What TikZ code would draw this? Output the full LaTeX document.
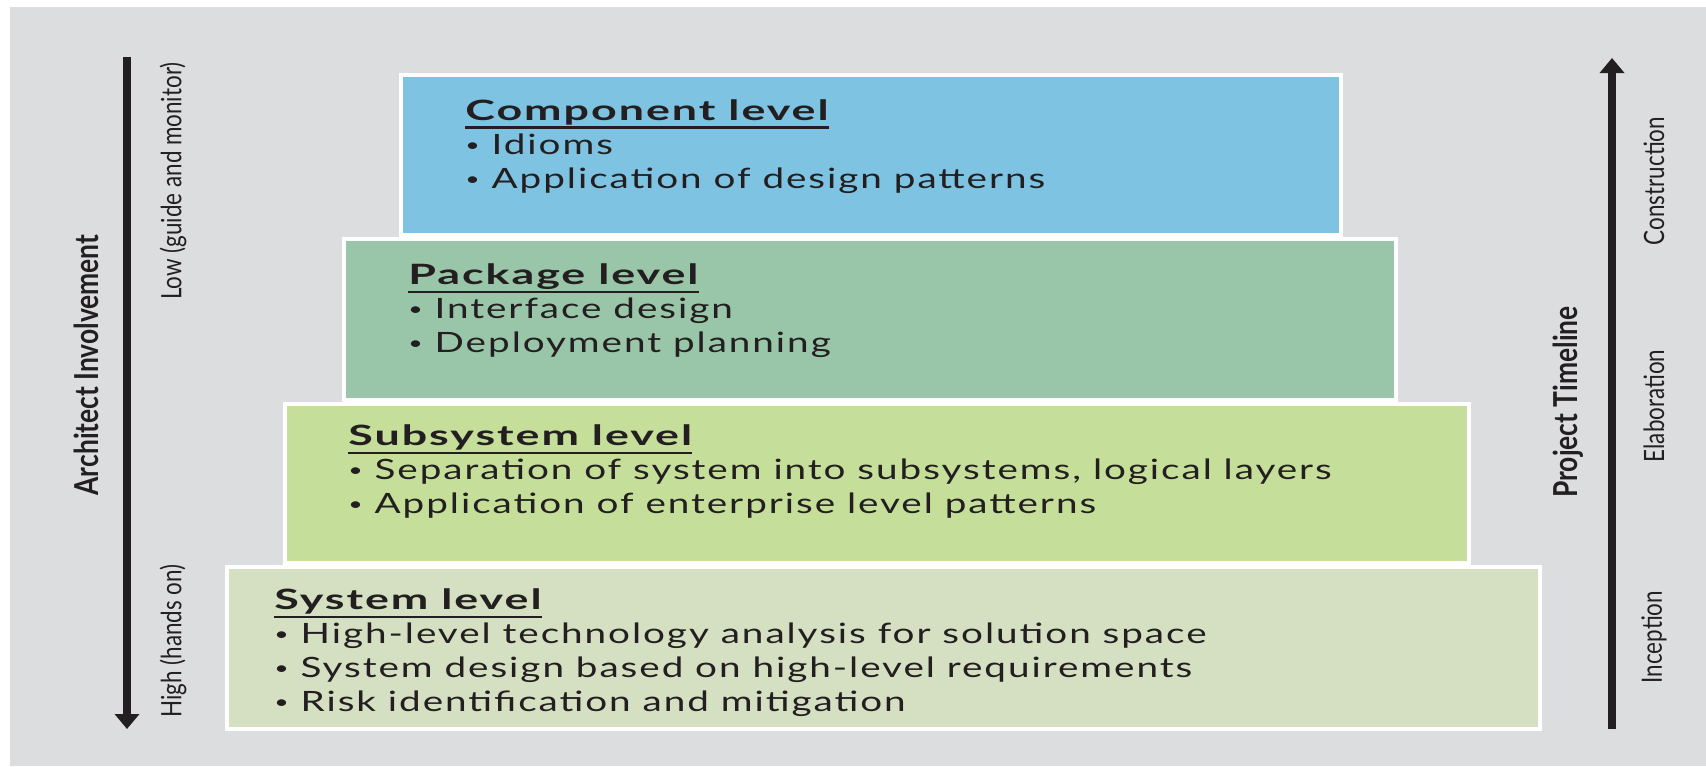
\documentclass[tikz,border=0pt]{standalone}
\usepackage{fontspec}
\usepackage{xcolor}
\usetikzlibrary{arrows.meta, positioning}

\definecolor{pagegray}{HTML}{DCDDDF}
\definecolor{compblue}{HTML}{7FC3E2}
\definecolor{packgreen}{HTML}{99C6A8}
\definecolor{subgreen}{HTML}{C5DF9B}
\definecolor{sysgreen}{HTML}{D4E0C1}
\definecolor{inkdark}{HTML}{231F20}

\newfontfamily\bodyfont{Lato}[FakeStretch=1.38, LetterSpace=7,
    BoldFeatures={FakeStretch=1.6}]
\newfontfamily\condfont{Lato}[FakeStretch=0.8]

% underlined level heading
\newcommand{\lvltitle}[1]{\vtop{\hbox{\bfseries #1}\kern0.8pt\hrule height 1.3pt}}
% small bullet
\newcommand{\lvlitem}{\raisebox{1.2pt}{\fontsize{9}{9}\selectfont\textbullet}\ }

\begin{document}
\begin{tikzpicture}[x=0.5pt, y=-0.5pt,
    level/.style = {draw=white, line width=2pt, anchor=north west,
        inner sep=0pt},
    levtext/.style = {anchor=north west, inner sep=0pt, align=left,
        text=inkdark, font=\bodyfont\fontsize{14}{17}\selectfont},
    axis/.style = {draw=inkdark, line width=3.75pt,
        -{Triangle[width=12pt, length=7.5pt]}},
    side/.style = {rotate=90, inner sep=0pt, text=inkdark,
        font=\condfont\fontsize{14}{16}\selectfont},
    sidebold/.style = {side, font=\condfont\bfseries\fontsize{16.5}{18}\selectfont}]

\useasboundingbox (0,0) rectangle (1706,766);
\fill[pagegray] (10,7) rectangle (1706,766);

% Component level
\node[level, fill=compblue, minimum width=470pt, minimum height=80pt] (comp) at (399,73) {};
\node[levtext] (comptext) at ([shift={(66,26)}]comp.north west)
    {\lvltitle{Component level}\\
     \lvlitem Idioms\\
     \lvlitem Application of design patterns};

% Package level
\node[level, fill=packgreen, minimum width=526pt, minimum height=80.5pt] (pack) at (342,237) {};
\node[levtext] (packtext) at ([shift={(66,26)}]pack.north west)
    {\lvltitle{Package level}\\
     \lvlitem Interface design\\
     \lvlitem Deployment planning};

% Subsystem level
\node[level, fill=subgreen, minimum width=592pt, minimum height=79.5pt] (subs) at (283,402) {};
\node[levtext] (substext) at ([shift={(65,22)}]subs.north west)
    {\lvltitle{Subsystem level}\\
     \lvlitem Separation of system into subsystems, logical layers\\
     \lvlitem Application of enterprise level patterns};

% System level
\node[level, fill=sysgreen, minimum width=656.5pt, minimum height=81pt] (sys) at (225,565) {};
\node[levtext] (systext) at ([shift={(49,23)}]sys.north west)
    {\lvltitle{System level}\\
     \lvlitem High-level technology analysis for solution space\\
     \lvlitem System design based on high-level requirements\\
     \lvlitem Risk identification and mitigation};

% Involvement axis
\coordinate (invtop) at (127,57);
\coordinate (invbot) at (127,729);
\draw[axis] (invtop) -- (invbot);
\node[sidebold] (involve) at (86,365) {Architect Involvement};
\node[side] (lowinv) at (173,181) {Low (guide and monitor)};
\node[side] (highinv) at (173,641) {High (hands on)};

% Timeline axis
\coordinate (timebot) at (1612,729);
\coordinate (timetop) at (1612,58);
\draw[axis] (timebot) -- (timetop);
\node[sidebold] (timeline) at (1568,402) {Project Timeline};
\node[side] (constr) at (1654,181) {Construction};
\node[side] (elab) at (1654,406) {Elaboration};
\node[side] (incep) at (1654,637) {Inception};
\end{tikzpicture}
\end{document}
